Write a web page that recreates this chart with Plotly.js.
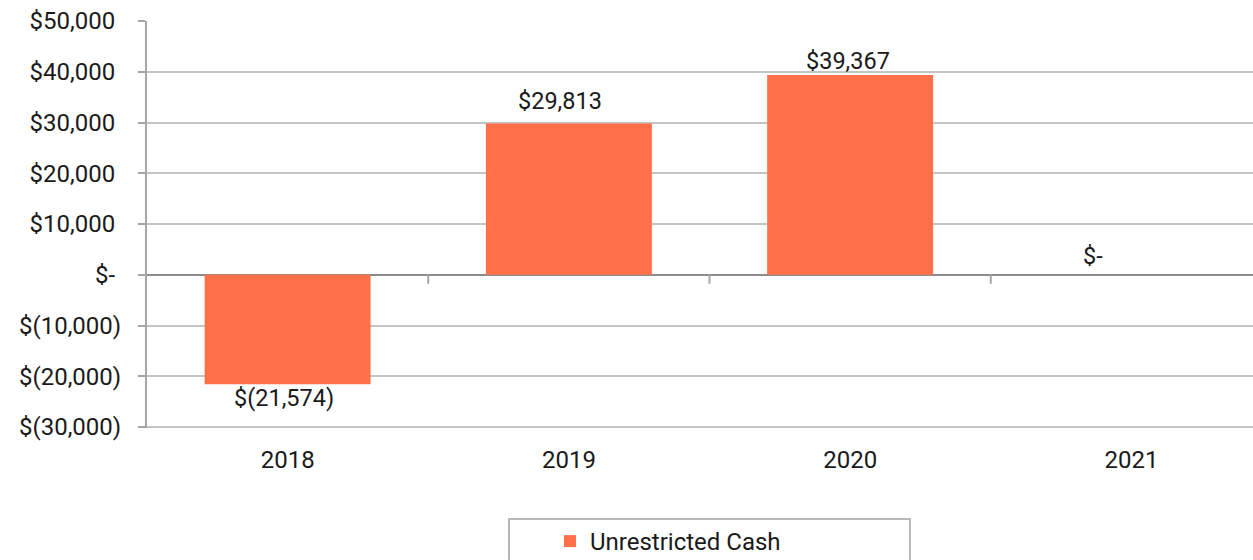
<!DOCTYPE html>
<html>
<head>
<meta charset="utf-8">
<script src="https://cdn.plot.ly/plotly-3.0.1.min.js"></script>
<style>
html,body{margin:0;padding:0;overflow:hidden;background:#fff;width:1253px;height:560px;}
#chart{width:1280px;height:600px;}
</style>
</head>
<body>
<div id="chart"></div>
<script>
const categories = ["2018", "2019", "2020", "2021"];
const unrestrictedCash = [-21574, 29813, 39367, 0];
const seriesName = "Unrestricted Cash";
const yTickVals = [50000, 40000, 30000, 20000, 10000, 0, -10000, -20000, -30000];
const yTickText = ["$50,000\u00a0", "$40,000\u00a0", "$30,000\u00a0", "$20,000\u00a0", "$10,000\u00a0", "$-\u00a0", "$(10,000)", "$(20,000)", "$(30,000)"];
// label placement tweaks (pixels), style only
const labelShiftX = [-4, -9, -2, -38];
const labelShiftY = [2, 6, -2, 3];

function acct(v) {
  if (v === 0) return "$-";
  const s = Math.abs(v).toLocaleString("en-US");
  return v < 0 ? "$(" + s + ")" : "$" + s;
}

const W = 1280, H = 600;
const ml = 147, mr = 8, mt = 21, mb = 172;
const pw = W - ml - mr, ph = H - mt - mb;
const px = p => (p - ml) / pw;
const py = q => (H - mb - q) / ph;

const fam = "Roboto, 'Noto Sans', sans-serif";
const font = {family: fam, size: 24, color: "#1a1a1a"};
const valFont = {family: fam, size: 23.5, color: "#1a1a1a"};

const boundaryShapes = categories.slice(1).map((c, i) => ({
  type: "line", xref: "x", yref: "y",
  x0: i + 0.5, x1: i + 0.5,
  ysizemode: "pixel", yanchor: 0, y0: 0, y1: -9,
  line: {color: "#a6a6a6", width: 2}
}));

const bottomGrid = {
  type: "line", xref: "paper", yref: "y",
  x0: 0, x1: 1,
  y0: Math.min(...yTickVals), y1: Math.min(...yTickVals),
  line: {color: "#c4c4c4", width: 2}, layer: "below"
};

const legendBox = {
  type: "rect", xref: "paper", yref: "paper",
  x0: px(509), x1: px(910), y0: py(519), y1: py(640),
  line: {color: "#b8b8b8", width: 2}, fillcolor: "rgba(0,0,0,0)"
};

const valueLabels = categories.map((c, i) => ({
  x: i, y: unrestrictedCash[i], xref: "x", yref: "y",
  text: acct(unrestrictedCash[i]),
  showarrow: false,
  yanchor: unrestrictedCash[i] < 0 ? "top" : "bottom",
  xanchor: "center",
  xshift: labelShiftX[i], yshift: labelShiftY[i],
  font: valFont
}));

const trace = {
  type: "bar",
  x: categories,
  y: unrestrictedCash,
  name: seriesName,
  marker: {color: "#ff7049"},
  hoverinfo: "skip"
};

const layout = {
  width: W, height: H,
  margin: {l: ml, r: mr, t: mt, b: mb, autoexpand: false},
  paper_bgcolor: "#fff", plot_bgcolor: "#fff",
  font: font,
  bargap: 0.41,
  showlegend: true,
  legend: {
    orientation: "h", xanchor: "left", yanchor: "top",
    x: px(550), y: py(519),
    font: font, bgcolor: "rgba(0,0,0,0)", borderwidth: 0
  },
  xaxis: {
    type: "category",
    range: [-0.5, 3.5],
    showgrid: false, showline: false, zeroline: false,
    ticks: "", tickfont: font, ticklabelstandoff: 15,
    fixedrange: true
  },
  yaxis: {
    range: [-30190, 50000],
    tickvals: yTickVals, ticktext: yTickText,
    tickfont: font,
    showline: true, linecolor: "#a6a6a6", linewidth: 2,
    ticks: "outside", ticklen: 7, tickwidth: 2, tickcolor: "#a6a6a6",
    ticklabelstandoff: 12,
    showgrid: true, gridcolor: "#c4c4c4", gridwidth: 2,
    zeroline: true, zerolinecolor: "#8c8c8c", zerolinewidth: 2,
    fixedrange: true
  },
  annotations: valueLabels,
  shapes: [bottomGrid].concat(boundaryShapes, [legendBox])
};

Plotly.newPlot("chart", [trace], layout, {displayModeBar: false, staticPlot: true});
</script>
</body>
</html>
